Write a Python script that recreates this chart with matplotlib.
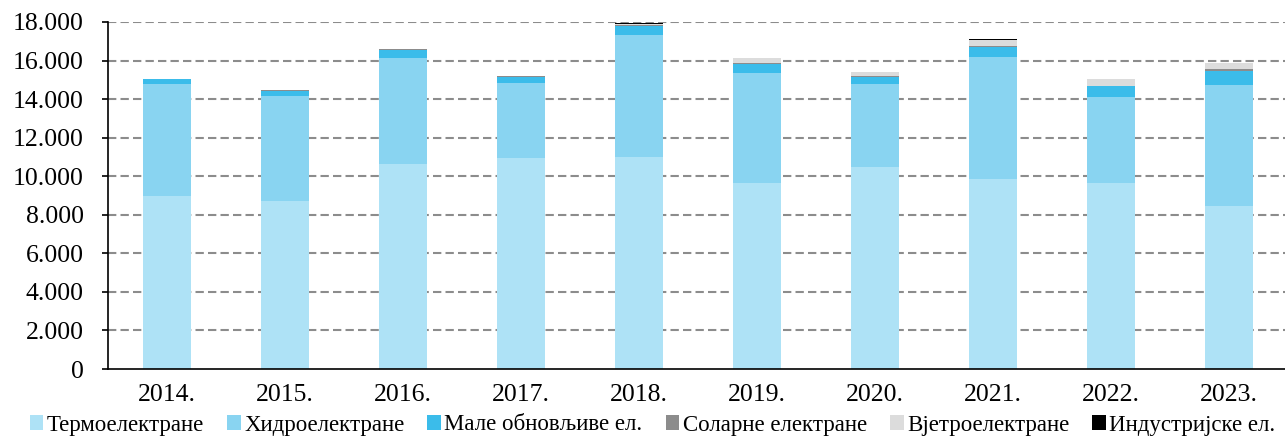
import matplotlib
matplotlib.use("Agg")
import matplotlib.pyplot as plt
import numpy as np
from matplotlib.patches import Patch

plt.rcParams['font.family'] = ['Liberation Serif', 'DejaVu Serif']

years = ["2014.", "2015.", "2016.", "2017.", "2018.", "2019.", "2020.", "2021.", "2022.", "2023."]
series_names = ["Термоелектране", "Хидроелектране", "Мале обновљиве ел.",
                "Соларне електране", "Вјетроелектране", "Индустријске ел."]
thermo = [8970, 8730, 10630, 10960, 11010, 9660, 10490, 9850, 9660, 8470]
hydro = [5810, 5440, 5520, 3860, 6310, 5670, 4290, 6330, 4460, 6260]
small_ren = [270, 230, 380, 330, 470, 510, 380, 520, 540, 740]
solar = [10, 50, 50, 40, 60, 40, 40, 40, 40, 80]
wind = [0, 0, 0, 0, 70, 230, 220, 350, 360, 300]
industrial = [3, 10, 5, 10, 5, 15, 5, 5, 5, 5]
colors = ["#AEE2F6", "#89D4F1", "#3BBCEA", "#8C8C8C", "#DCDCDC", "#000000"]

data = [thermo, hydro, small_ren, solar, wind, industrial]

fig = plt.figure(figsize=(12.85, 4.42), dpi=100)
ax = fig.add_axes([108/1285, 1-369/442, 1180/1285, 347/442])

x = np.arange(len(years))
bottom = np.zeros(len(years))
for vals, col, name in zip(data, colors, series_names):
    ax.bar(x, vals, width=0.4, bottom=bottom, color=col, label=name, zorder=3,
           edgecolor='none')
    bottom += np.array(vals)

ax.set_xlim(-0.5, 9.5)
ax.set_ylim(0, 18000)
yt = np.arange(0, 18001, 2000)
ax.set_yticks(yt)
ax.set_yticklabels(["0" if v == 0 else f"{v//1000}.{v%1000:03d}" for v in yt], fontsize=18.5)
ax.set_xticks(x)
ax.set_xticklabels(years, fontsize=18.5)
ax.tick_params(axis='x', length=0, pad=11)
ax.tick_params(axis='y', length=4.5, width=1.2, pad=13, direction='out')

for v in yt[1:]:
    ax.axhline(v, color='#8C8C8C', linestyle=(0, (4, 2)), linewidth=1.5, zorder=1)

for s in ['top', 'right']:
    ax.spines[s].set_visible(False)
ax.spines['left'].set_linewidth(1.2)
ax.spines['bottom'].set_linewidth(1.2)
ax.spines['left'].set_zorder(4)
ax.spines['bottom'].set_zorder(4)

handles = [Patch(facecolor=c, edgecolor='none') for c in colors]
fig.legend(handles, series_names, loc='center', bbox_to_anchor=(0.5 + 10/1285, 1-425/442),
           ncol=6, frameon=False, fontsize=16.5, handlelength=0.6, handleheight=0.6,
           handletextpad=0.15, columnspacing=1.0, borderpad=0)

fig.savefig("out.png", dpi=100)
